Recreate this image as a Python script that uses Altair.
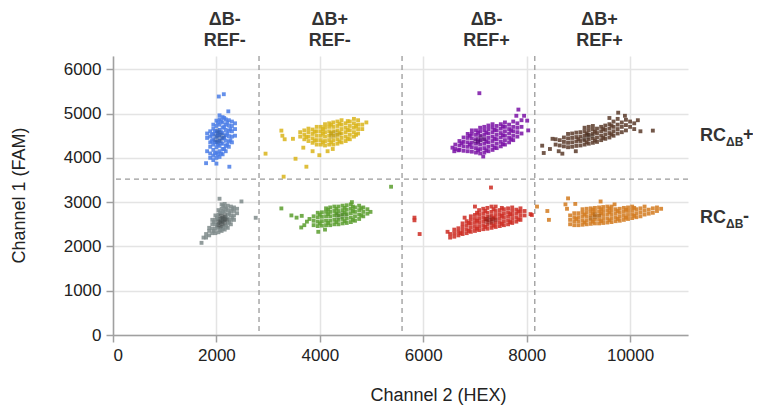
import altair as alt
import pandas as pd

# ---- droplet clusters ----
# each cluster: list of (Channel 2 HEX value, [Channel 1 FAM values at that HEX value])
blue = [(1820,[4150,4450,4550]),(1880,[4000,4100,4250,4350,4480,4600]),
        (1940,[3950,4050,4180,4300,4420,4540,4660,4750]),(2000,[4000,4120,4240,4360,4480,4600,4720,4840]),
        (2060,[4020,4150,4270,4390,4510,4630,4750,4870,4960]),(2120,[4080,4200,4320,4440,4560,4680,4800,4920]),
        (2180,[4150,4270,4390,4510,4630,4750,4870]),(2240,[4250,4370,4490,4610,4730,4850]),
        (2300,[4350,4480,4600,4720,4820]),(2360,[4500,4650,4780]),
        (1910,[4380,4520]),(1970,[4100,4350,4600]),(2030,[4080,4300,4550,4800]),(2090,[4100,4330,4580,4830]),
        (2150,[4200,4450,4700,4900]),(2210,[4300,4550,4800]),(2270,[4400,4650]),
        (1800,[3880]),(2000,[3870]),(2250,[3800]),(2046,[5385]),(2143,[5437]),(2230,[5050])]
gray = [(1800,[2200,2280]),(1860,[2250,2350,2420]),(1920,[2300,2400,2500,2600]),
        (1980,[2300,2400,2500,2600,2700]),(2040,[2320,2420,2520,2620,2720,2820]),
        (2100,[2350,2450,2550,2650,2750,2850,2950]),(2160,[2380,2480,2580,2680,2780,2880,2960]),
        (2220,[2420,2520,2620,2720,2820,2920]),(2280,[2500,2600,2700,2800,2900]),
        (2340,[2600,2700,2800,2880]),(2400,[2750,2850]),
        (1950,[2350,2550]),(2010,[2450,2650]),(2070,[2370,2570,2770]),(2130,[2400,2600,2800,2920]),
        (2190,[2450,2650,2850]),(2250,[2550,2750]),(2310,[2650,2850]),
        (2060,[3077]),(2484,[3016]),(2760,[2647]),(1712,[2081]),(1750,[2200])]
yellow = [(3620,[4480,4580]),(3700,[4420,4520,4620]),(3780,[4380,4480,4580,4660]),
          (3860,[4340,4440,4540,4640]),(3940,[4300,4400,4500,4600,4700]),(4020,[4300,4400,4500,4600,4700]),
          (4100,[4280,4380,4480,4580,4680,4760]),(4180,[4300,4400,4500,4600,4700,4780]),
          (4260,[4300,4400,4500,4600,4700,4800]),(4340,[4320,4420,4520,4620,4720,4820]),
          (4420,[4350,4450,4550,4650,4750,4850]),(4500,[4380,4480,4580,4680,4780]),
          (4580,[4420,4520,4620,4720,4820]),(4660,[4480,4580,4680,4780,4880]),
          (4740,[4550,4650,4750,4850]),(4820,[4650,4750]),
          (3740,[4470]),(3900,[4390,4590]),(4060,[4350,4550,4650]),(4220,[4350,4550,4750]),
          (4380,[4370,4570,4770]),(4540,[4430,4630,4830]),(4700,[4520,4720]),
          (3256,[4615]),(3275,[4500]),(3320,[4420]),(2950,[4095]),(3300,[3575]),(3530,[3980]),
          (3740,[3800]),(3680,[4230]),(3860,[4150]),(3990,[4060]),(4150,[4150]),(4250,[4200]),
          (4900,[4800]),(3480,[4430])]
green = [(3880,[2480,2580,2680]),(3960,[2460,2560,2660,2760]),(4040,[2470,2570,2670,2770]),
         (4120,[2480,2580,2680,2780,2860]),(4200,[2480,2580,2680,2780,2880]),
         (4280,[2500,2600,2700,2800,2900]),(4360,[2500,2600,2700,2800,2900]),
         (4440,[2520,2620,2720,2820,2920]),(4520,[2530,2630,2730,2830,2930]),
         (4600,[2550,2650,2750,2850,2950]),(4680,[2580,2680,2780,2880]),(4760,[2620,2720,2820,2920]),
         (4840,[2680,2780,2880]),(4920,[2740,2840]),
         (4000,[2520,2720]),(4160,[2530,2730,2830]),(4320,[2550,2750,2850]),(4480,[2570,2770,2870]),
         (4640,[2600,2800,2900]),(4800,[2700,2860]),
         (3256,[2858]),(3450,[2700]),(3550,[2650]),(3640,[2428]),(3650,[2690]),(3750,[2560]),
         (3800,[2620]),(3970,[2330]),(4100,[2380]),(4620,[3000]),(5378,[3348]),(4980,[2780]),(3700,[2480])]
purple = [(6620,[4200,4300]),(6700,[4180,4280,4380]),(6780,[4160,4260,4360,4460]),
          (6860,[4150,4250,4350,4450,4540]),(6940,[4140,4240,4340,4440,4540,4620]),
          (7020,[4120,4220,4320,4420,4520,4620]),(7100,[4100,4200,4300,4400,4500,4600,4680]),
          (7180,[4120,4220,4320,4420,4520,4620,4700]),(7260,[4150,4250,4350,4450,4550,4650,4730]),
          (7340,[4180,4280,4380,4480,4580,4680,4760]),(7420,[4220,4320,4420,4520,4620,4720]),
          (7500,[4260,4360,4460,4560,4660,4760]),(7580,[4300,4400,4500,4600,4700,4800]),
          (7660,[4350,4450,4550,4650,4750]),(7740,[4400,4500,4600,4700,4820]),
          (7820,[4480,4580,4680,4780]),(7900,[4550,4700,4850]),
          (6740,[4330]),(6900,[4300,4500]),(7060,[4170,4370,4570]),(7220,[4170,4370,4570]),
          (7380,[4230,4430,4630]),(7540,[4310,4510,4710]),(7700,[4420,4620]),
          (7840,[5090]),(8010,[4840]),(8030,[4620]),(6565,[4230]),(6680,[4170]),(7160,[4030]),
          (7085,[5460]),(7950,[4950]),(7800,[4950]),(6600,[4150])]
red = [(6520,[2200,2280]),(6600,[2220,2300,2380]),(6680,[2250,2330,2410]),(6760,[2280,2360,2440,2520]),
       (6840,[2300,2390,2480,2570]),(6920,[2330,2420,2510,2600,2680]),(7000,[2350,2440,2530,2620,2710]),
       (7080,[2370,2460,2550,2640,2730,2820]),(7160,[2390,2480,2570,2660,2750,2850]),
       (7240,[2400,2490,2580,2670,2760,2870]),(7320,[2420,2510,2600,2690,2780,2900]),
       (7400,[2440,2530,2620,2710,2800,2900]),(7480,[2460,2550,2640,2730,2820]),
       (7560,[2480,2570,2660,2750,2840]),(7640,[2500,2590,2680,2770,2860]),
       (7720,[2530,2620,2710,2800,2880]),(7800,[2560,2650,2740,2830]),(7880,[2600,2690,2780,2860]),
       (7960,[2700,2800]),
       (6720,[2300]),(6880,[2350,2530]),(7040,[2400,2580,2760]),(7200,[2440,2620,2800]),
       (7360,[2470,2650,2840]),(7520,[2510,2690,2870]),(7680,[2550,2730]),(7840,[2610,2790]),
       (5830,[2650,2590]),(5930,[2280]),(7310,[3330]),(8075,[2730]),(8100,[2710]),(6470,[2330]),
       (6800,[2650]),(7000,[2900])]
brown = [(8560,[4300,4420]),(8640,[4280,4400]),(8720,[4260,4360,4460]),(8800,[4240,4340,4440,4540]),
         (8880,[4250,4350,4450,4550]),(8960,[4270,4370,4470,4570]),(9040,[4280,4380,4480,4580]),
         (9120,[4300,4400,4500,4600,4680]),(9200,[4320,4420,4520,4620,4700]),
         (9280,[4340,4440,4540,4640,4720]),(9360,[4360,4460,4560,4660]),(9440,[4400,4500,4600,4700]),
         (9520,[4430,4530,4630,4730]),(9600,[4460,4560,4660,4760]),(9680,[4500,4600,4700,4820]),
         (9760,[4550,4650,4750,4880]),(9840,[4580,4700,4800]),(9920,[4620,4740,4860]),
         (10000,[4700,4820]),(10080,[4650,4780]),
         (9000,[4420]),(9160,[4350,4550]),(9320,[4390,4590]),(9480,[4450,4650]),(9640,[4530,4730]),
         (8300,[4275]),(8330,[4110]),(8500,[4430]),(8450,[4200]),(8690,[4095]),(8620,[4150]),
         (9770,[5020]),(10440,[4615]),(10150,[4850]),(10200,[4600]),(8950,[4150]),(9600,[4900]),
         (9900,[4950])]
orange = [(8840,[2500,2600,2700]),(8920,[2480,2570,2660,2750]),(9000,[2480,2570,2660,2750]),
          (9080,[2490,2580,2670,2760,2840]),(9160,[2500,2590,2680,2770,2850]),
          (9240,[2510,2600,2690,2780,2860]),(9320,[2520,2610,2700,2790,2870]),
          (9400,[2520,2610,2700,2790,2880]),(9480,[2530,2620,2710,2800,2890]),
          (9560,[2540,2630,2720,2810,2900]),(9640,[2550,2640,2730,2820,2900]),
          (9720,[2570,2660,2750,2840]),(9800,[2580,2670,2760,2850]),(9880,[2600,2690,2780,2870]),
          (9960,[2620,2710,2800,2880]),(10040,[2640,2730,2820,2900]),(10120,[2660,2750,2840]),
          (10200,[2680,2770,2860]),(10280,[2720,2810,2900]),(10360,[2740,2830]),(10440,[2760,2860]),
          (10520,[2800,2880]),
          (8960,[2620]),(9120,[2540,2720]),(9280,[2560,2740,2830]),(9440,[2570,2750,2840]),
          (9600,[2590,2770,2860]),(9760,[2620,2800]),(9920,[2650,2830]),(10080,[2690,2870]),
          (8200,[2900]),(8400,[2800]),(8430,[2600]),(8800,[3085]),(9430,[3015]),(8940,[2960]),
          (8780,[2850]),(8750,[2950]),(10600,[2850]),(9700,[2950])]

# darker dense cores of the clusters (drawn translucent on top)
blue_core = [(1980,[4400,4500]),(2020,[4350,4450,4550,4620]),(2060,[4380,4480,4580]),(2100,[4420,4520]),
             (2140,[4480])]
gray_core = [(2040,[2480,2560]),(2080,[2450,2530,2610,2690]),(2120,[2500,2580,2660]),
             (2160,[2540,2620,2700]),(2200,[2600])]
yellow_core = [(4220,[4480,4560]),(4300,[4500,4580]),(4380,[4530])]
green_core = [(4340,[2650,2720]),(4420,[2670,2740]),(4500,[2700])]
purple_core = [(7000,[4380]),(7060,[4350,4430]),(7120,[4400,4480]),(7180,[4430])]
red_core = [(7220,[2560,2620]),(7280,[2540,2600,2660]),(7340,[2560,2620]),(7400,[2600])]
brown_core = [(9100,[4430]),(9180,[4460,4520]),(9260,[4500])]
orange_core = [(9240,[2640]),(9320,[2660,2720]),(9400,[2690])]

cluster_names = ["blue", "gray", "yellow", "green", "purple", "red", "brown", "orange"]
cluster_colors = ["#4a7de6", "#7f8b8b", "#d9b41a", "#5a9e2e", "#7a12a6", "#cc2c22", "#5b3b2a", "#d27a1e"]
clusters = [blue, gray, yellow, green, purple, red, brown, orange]
core_names = ["blue core", "gray core", "yellow core", "green core", "purple core", "red core",
              "brown core", "orange core"]
core_colors = ["#274f9c", "#343a3a", "#a3850f", "#3b721e", "#45075f", "#7d1610", "#2e1c12", "#94520f"]
cores = [blue_core, gray_core, yellow_core, green_core, purple_core, red_core, brown_core, orange_core]

# thresholds
v_thresholds = [2824, 5590, 8157]
h_thresholds = [3521]

# labels
top_x = [2160, 4190, 7225, 9410]
top_line1 = ["ΔB-", "ΔB+", "ΔB-", "ΔB+"]
top_line2 = ["REF-", "REF-", "REF+", "REF+"]
right_y = [4500, 2650]
right_sign = ["+", "-"]

x_ticks = [0, 2000, 4000, 6000, 8000, 10000]
y_ticks = [0, 1000, 2000, 3000, 4000, 5000, 6000]


def to_frame(names, groups):
    rows = []
    for name, cols in zip(names, groups):
        for hx, fams in cols:
            for fm in fams:
                rows.append({"hex": hx, "fam": fm, "cluster": name})
    return pd.DataFrame(rows)


df = to_frame(cluster_names, clusters)
df_core = to_frame(core_names, cores)

FONT = "Liberation Sans"

xenc = alt.X("hex:Q", title="Channel 2 (HEX)",
             scale=alt.Scale(domain=[0, 11120], nice=False, zero=False),
             axis=alt.Axis(values=x_ticks, format="d", titleX=325, titleY=60,
                           titleBaseline="middle", titleAlign="center"))
yenc = alt.Y("fam:Q", title="Channel 1 (FAM)",
             scale=alt.Scale(domain=[0, 6300], nice=False, zero=False),
             axis=alt.Axis(values=y_ticks, format="d", titleX=-94, titleY=139,
                           titleBaseline="middle", titleAlign="center", titleAngle=-90))
color_scale = alt.Scale(domain=cluster_names + core_names, range=cluster_colors + core_colors)

vrules = alt.Chart(pd.DataFrame({"hex": v_thresholds})).mark_rule(
    color="#9a9a9a", strokeDash=[5, 4], strokeWidth=1.3).encode(x=xenc)
hrules = alt.Chart(pd.DataFrame({"fam": h_thresholds})).mark_rule(
    color="#9a9a9a", strokeDash=[5, 4], strokeWidth=1.3).encode(y=yenc)

points = alt.Chart(df).mark_square(size=15, opacity=0.85).encode(
    x=xenc, y=yenc, color=alt.Color("cluster:N", scale=color_scale, legend=None))
core_points = alt.Chart(df_core).mark_square(size=16, opacity=0.35).encode(
    x=xenc, y=yenc, color=alt.Color("cluster:N", scale=color_scale, legend=None))

top_df = pd.DataFrame({"hex": top_x, "l1": top_line1, "l2": top_line2})
top1 = alt.Chart(top_df).mark_text(font=FONT, fontSize=18, fontWeight="bold", color="#333",
                                   baseline="middle", align="center").encode(
    x=xenc, y=alt.value(-36), text="l1:N")
top2 = alt.Chart(top_df).mark_text(font=FONT, fontSize=18, fontWeight="bold", color="#333",
                                   baseline="middle", align="center").encode(
    x=xenc, y=alt.value(-15), text="l2:N")

right_df = pd.DataFrame({"fam": right_y, "sign": right_sign, "rc": ["RC", "RC"], "sub": ["ΔB", "ΔB"]})
rc = alt.Chart(right_df).mark_text(font=FONT, fontSize=18, fontWeight="bold", color="#333",
                                   baseline="middle", align="left").encode(
    x=alt.value(587), y=yenc, text="rc:N")
sub = alt.Chart(right_df).mark_text(font=FONT, fontSize=12, fontWeight="bold", color="#333",
                                    baseline="middle", align="left", dy=6).encode(
    x=alt.value(613), y=yenc, text="sub:N")
sign = alt.Chart(right_df).mark_text(font=FONT, fontSize=18, fontWeight="bold", color="#333",
                                     baseline="middle", align="left", dy=-1).encode(
    x=alt.value(630), y=yenc, text="sign:N")

chart = alt.layer(vrules, hrules, points, core_points, top1, top2, rc, sub, sign).properties(
    width=575, height=279,
    autosize=alt.AutoSizeParams(type="none"),
    padding={"left": 105, "top": 48, "right": 65, "bottom": 73},
).configure_axis(
    grid=True, gridColor="#e4e4e4", gridWidth=1.5,
    domainColor="#a0a0a0", domainWidth=1.5, tickColor="#a0a0a0", tickSize=7, tickWidth=1.5,
    labelFont=FONT, labelFontSize=17, labelColor="#222", labelPadding=5,
    titleFont=FONT, titleFontSize=18, titleFontWeight="normal", titleColor="#222",
).configure_view(stroke=None)

chart.save("out.html", embed_options={"renderer": "svg", "actions": False})
